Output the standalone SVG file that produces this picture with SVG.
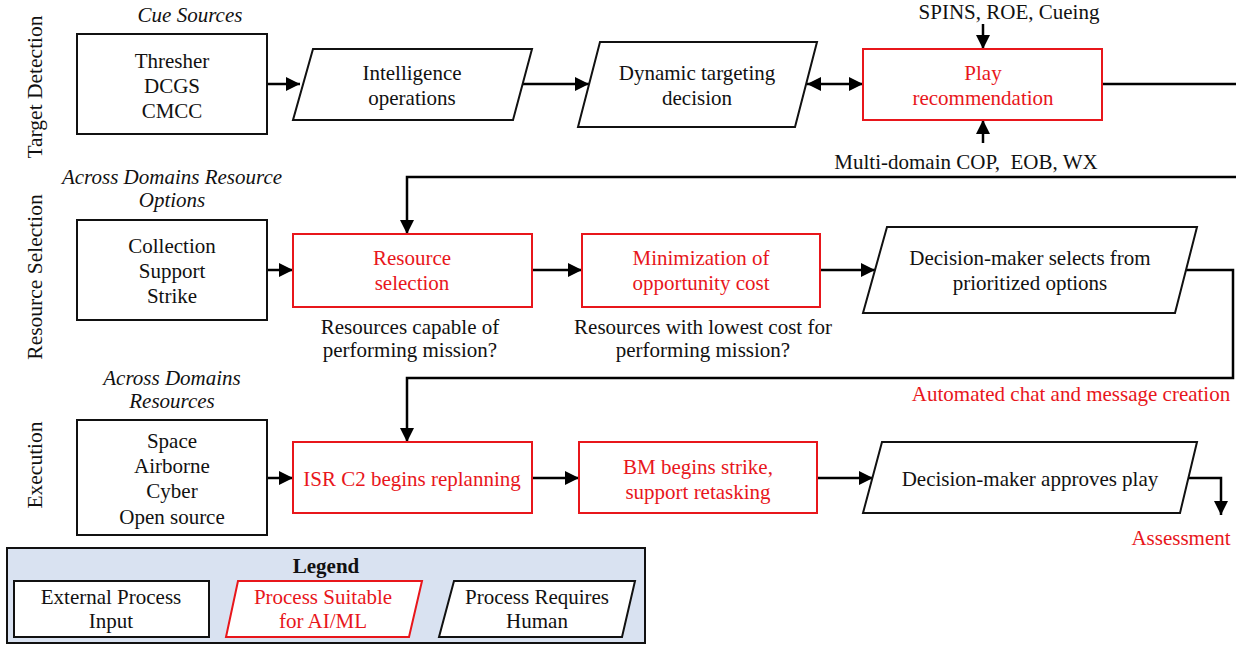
<svg xmlns="http://www.w3.org/2000/svg" width="1236" height="645" viewBox="0 0 1236 645" font-family="'Liberation Serif', 'DejaVu Serif', 'Times New Roman', serif">
<defs>
<marker id="ah" markerUnits="userSpaceOnUse" markerWidth="14" markerHeight="14" viewBox="0 0 14 14" refX="14" refY="7" orient="auto-start-reverse">
<path d="M0,0 L14,7 L0,14 z" fill="#000"/>
</marker>
<style>
text{font-family:'Liberation Serif','DejaVu Serif','Times New Roman',serif;font-size:21px;fill:#111;text-anchor:middle}
.it{font-style:italic}
.red{fill:#e8161b}
.ext{fill:#fff;stroke:#111;stroke-width:2}
.ai{fill:#fff;stroke:#e8161b;stroke-width:2}
.hum{fill:#fff;stroke:#111;stroke-width:2}
.c{fill:none;stroke:#000;stroke-width:2.5}
.lane{font-size:21.5px}
</style>
</defs>
<rect width="1236" height="645" fill="#fff"/>

<g id="lanes">
<text class="lane" transform="translate(42,87) rotate(-90)">Target Detection</text>
<text class="lane" transform="translate(42,277) rotate(-90)">Resource Selection</text>
<text class="lane" transform="translate(42,465) rotate(-90)">Execution</text>
</g>

<g id="headers">
<text class="it" x="190" y="22">Cue Sources</text>
<text class="it" x="172" y="184">Across Domains Resource</text>
<text class="it" x="172" y="207">Options</text>
<text class="it" x="172" y="385">Across Domains</text>
<text class="it" x="172" y="408">Resources</text>
</g>

<g id="connectors">
<path class="c" d="M267,84 H300" marker-end="url(#ah)"/>
<path class="c" d="M523,84 H589" marker-end="url(#ah)"/>
<path class="c" d="M807,84 H863" marker-start="url(#ah)" marker-end="url(#ah)"/>
<path class="c" d="M983,24 V49" marker-end="url(#ah)"/>
<path class="c" d="M983,143 V120" marker-end="url(#ah)"/>
<path class="c" d="M1102,84 H1236"/>
<path class="c" d="M1236,177 H407 V234" marker-end="url(#ah)"/>
<path class="c" d="M267,270 H293" marker-end="url(#ah)"/>
<path class="c" d="M532,270 H582" marker-end="url(#ah)"/>
<path class="c" d="M820,270 H875" marker-end="url(#ah)"/>
<path class="c" d="M1186,270 H1233 V378 H407 V442" marker-end="url(#ah)"/>
<path class="c" d="M267,478 H293" marker-end="url(#ah)"/>
<path class="c" d="M532,478 H579" marker-end="url(#ah)"/>
<path class="c" d="M817,478 H873" marker-end="url(#ah)"/>
<path class="c" d="M1189,478 H1221 V515" marker-end="url(#ah)"/>
</g>

<g id="cue-sources">
<rect class="ext" x="77" y="34" width="190" height="100"/>
<text x="172" y="68">Thresher</text>
<text x="172" y="93">DCGS</text>
<text x="172" y="118">CMCC</text>
</g>

<g id="intelligence-operations">
<polygon class="hum" points="313,49 532,49 513,120 293,120"/>
<text x="412" y="80">Intelligence</text>
<text x="412" y="105">operations</text>
</g>

<g id="dynamic-targeting">
<polygon class="hum" points="600,42 817,42 795,127 578,127"/>
<text x="697" y="80">Dynamic targeting</text>
<text x="697" y="105">decision</text>
</g>

<g id="play-recommendation">
<rect class="ai" x="863" y="49" width="239" height="71"/>
<text class="red" x="983" y="80">Play</text>
<text class="red" x="983" y="105">recommendation</text>
<text x="1009" y="19">SPINS, ROE, Cueing</text>
<text x="966" y="169" xml:space="preserve">Multi-domain COP,  EOB, WX</text>
</g>

<g id="resource-options">
<rect class="ext" x="77" y="220" width="190" height="100"/>
<text x="172" y="253">Collection</text>
<text x="172" y="278">Support</text>
<text x="172" y="303">Strike</text>
</g>

<g id="resource-selection">
<rect class="ai" x="293" y="234" width="239" height="73"/>
<text class="red" x="412" y="265">Resource</text>
<text class="red" x="412" y="290">selection</text>
<text x="410" y="334">Resources capable of</text>
<text x="410" y="357">performing mission?</text>
</g>

<g id="minimization">
<rect class="ai" x="582" y="234" width="238" height="73"/>
<text class="red" x="701" y="265">Minimization of</text>
<text class="red" x="701" y="290">opportunity cost</text>
<text x="703" y="334">Resources with lowest cost for</text>
<text x="703" y="357">performing mission?</text>
</g>

<g id="decision-selects">
<polygon class="hum" points="887,227 1197,227 1175,313 863,313"/>
<text x="1030" y="265">Decision-maker selects from</text>
<text x="1030" y="290">prioritized options</text>
<text class="red" x="1071" y="401">Automated chat and message creation</text>
</g>

<g id="resources">
<rect class="ext" x="77" y="420" width="190" height="115"/>
<text x="172" y="448">Space</text>
<text x="172" y="473">Airborne</text>
<text x="172" y="498">Cyber</text>
<text x="172" y="524">Open source</text>
</g>

<g id="isr-c2">
<rect class="ai" x="293" y="442" width="239" height="71"/>
<text class="red" x="412" y="486">ISR C2 begins replanning</text>
</g>

<g id="bm-strike">
<rect class="ai" x="579" y="442" width="238" height="71"/>
<text class="red" x="698" y="474">BM begins strike,</text>
<text class="red" x="698" y="499">support retasking</text>
</g>

<g id="decision-approves">
<polygon class="hum" points="882,442 1197,442 1180,513 863,513"/>
<text x="1030" y="486">Decision-maker approves play</text>
<text class="red" x="1181" y="545">Assessment</text>
</g>

<g id="legend">
<rect x="7" y="548" width="638" height="95" fill="#d9e2f1" stroke="#111" stroke-width="2"/>
<text x="326" y="573" font-weight="bold">Legend</text>
<rect class="ext" x="14" y="581" width="195" height="56"/>
<text x="111" y="604">External Process</text>
<text x="111" y="628">Input</text>
<polygon class="ai" points="238,581 422,581 409,637 226,637"/>
<text class="red" x="323" y="604">Process Suitable</text>
<text class="red" x="323" y="628">for AI/ML</text>
<polygon class="hum" points="454,581 635,581 622,637 439,637"/>
<text x="537" y="604">Process Requires</text>
<text x="537" y="628">Human</text>
</g>
</svg>
